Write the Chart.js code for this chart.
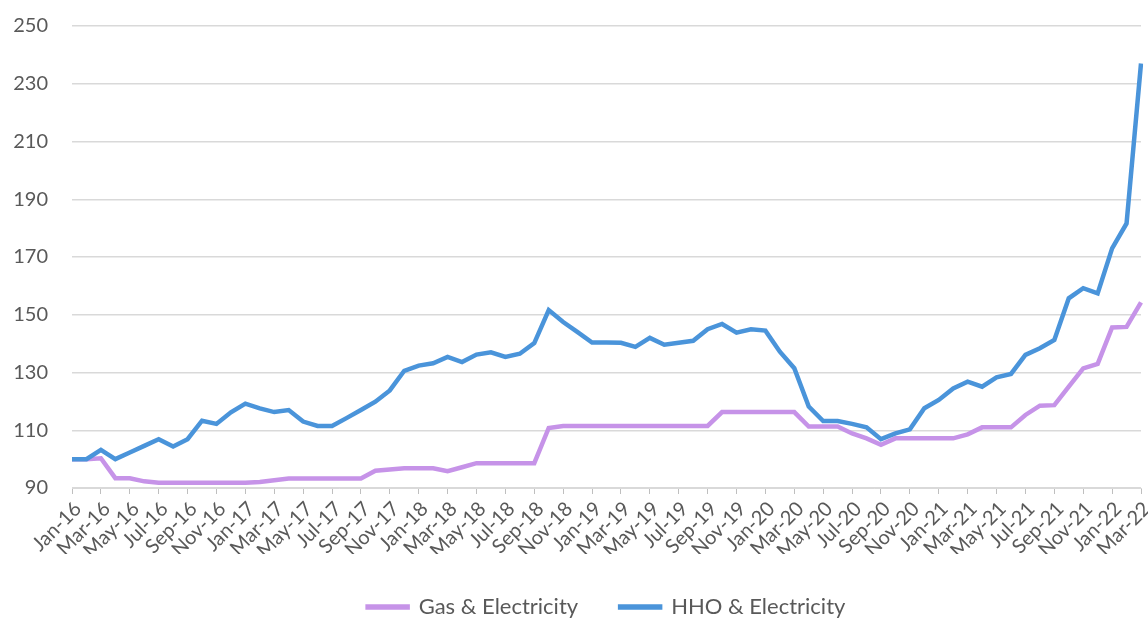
<!DOCTYPE html>
<html lang="en">
<head>
    <meta charset="UTF-8">
    <title>Gas vs HHO Index</title>
    <script src="https://cdn.jsdelivr.net/npm/chart.js"></script>
    <style>
        body {
            margin: 0;
            padding: 0;
            background: #ffffff;
        }
        #wrap {
            width: 1148px;
            height: 619px;
            position: relative;
        }
    </style>
</head>
<body>
    <div id="wrap">
        <canvas id="indexChart"></canvas>
    </div>

    <script>
        const months = [
            'Jan-16','Feb-16','Mar-16','Apr-16','May-16','Jun-16','Jul-16','Aug-16','Sep-16','Oct-16','Nov-16','Dec-16',
            'Jan-17','Feb-17','Mar-17','Apr-17','May-17','Jun-17','Jul-17','Aug-17','Sep-17','Oct-17','Nov-17','Dec-17',
            'Jan-18','Feb-18','Mar-18','Apr-18','May-18','Jun-18','Jul-18','Aug-18','Sep-18','Oct-18','Nov-18','Dec-18',
            'Jan-19','Feb-19','Mar-19','Apr-19','May-19','Jun-19','Jul-19','Aug-19','Sep-19','Oct-19','Nov-19','Dec-19',
            'Jan-20','Feb-20','Mar-20','Apr-20','May-20','Jun-20','Jul-20','Aug-20','Sep-20','Oct-20','Nov-20','Dec-20',
            'Jan-21','Feb-21','Mar-21','Apr-21','May-21','Jun-21','Jul-21','Aug-21','Sep-21','Oct-21','Nov-21','Dec-21',
            'Jan-22','Feb-22','Mar-22'
        ];

        const gasElec = [
            100, 100, 100.3, 93.4, 93.4, 92.3, 91.8, 91.8, 91.8, 91.8, 91.8, 91.8,
            91.8, 92.1, 92.7, 93.3, 93.3, 93.3, 93.3, 93.3, 93.3, 96.0, 96.4, 96.8,
            96.8, 96.8, 95.8, 97.2, 98.6, 98.6, 98.6, 98.6, 98.6, 110.8, 111.5, 111.5,
            111.5, 111.5, 111.5, 111.5, 111.5, 111.5, 111.5, 111.5, 111.5, 116.3, 116.3, 116.3,
            116.3, 116.3, 116.3, 111.3, 111.3, 111.3, 108.9, 107.2, 105.0, 107.2, 107.2, 107.2,
            107.2, 107.2, 108.6, 111.0, 111.0, 111.0, 115.3, 118.5, 118.7, 125.1, 131.4, 133.0,
            145.6, 145.8, 154.3
        ];

        const hhoElec = [
            100, 100, 103.2, 100, 102.3, 104.6, 106.9, 104.4, 106.9, 113.3, 112.2, 116.2,
            119.2, 117.6, 116.3, 117.0, 113.0, 111.5, 111.5, 114.2, 117.0, 119.9, 123.8, 130.6,
            132.4, 133.2, 135.4, 133.6, 136.2, 137.0, 135.4, 136.5, 140.2, 151.6, 147.5, 144.0,
            140.4, 140.4, 140.3, 138.9, 142.0, 139.6, 140.3, 141.0, 145.0, 146.8, 143.8, 145.0,
            144.5, 137.2, 131.5, 118.2, 113.2, 113.2, 112.2, 111.0, 106.9, 108.9, 110.3, 117.6,
            120.5, 124.5, 126.8, 125.1, 128.3, 129.5, 136.1, 138.4, 141.3, 155.7, 159.2, 157.4,
            173.0, 181.6, 237.0
        ];

        const yTicks = [90, 110, 130, 150, 170, 190, 210, 230, 250];

        const PURPLE = '#c693e8';
        const BLUE = '#4a94da';
        const TEXT = '#595959';
        const FONT = 'Lato, "Liberation Sans", sans-serif';

        const ctx = document.getElementById('indexChart').getContext('2d');

        new Chart(ctx, {
            type: 'line',
            data: {
                labels: months,
                datasets: [
                    {
                        label: 'Gas & Electricity',
                        data: gasElec,
                        borderColor: PURPLE,
                        backgroundColor: PURPLE,
                        borderWidth: 4.5,
                        pointRadius: 0,
                        tension: 0,
                        order: 2
                    },
                    {
                        label: 'HHO & Electricity',
                        data: hhoElec,
                        borderColor: BLUE,
                        backgroundColor: BLUE,
                        borderWidth: 4.5,
                        pointRadius: 0,
                        tension: 0,
                        order: 1
                    }
                ]
            },
            options: {
                responsive: true,
                maintainAspectRatio: false,
                animation: false,
                layout: {
                    padding: 0
                },
                plugins: {
                    title: { display: false },
                    tooltip: { enabled: false },
                    legend: {
                        position: 'bottom',
                        fullSize: false,
                        maxHeight: 65,
                        labels: {
                            font: { family: FONT, size: 22 },
                            color: TEXT,
                            boxWidth: 40,
                            boxHeight: 1,
                            padding: 42,
                            sort: (a, b) => a.datasetIndex - b.datasetIndex
                        }
                    }
                },
                scales: {
                    x: {
                        offset: false,
                        afterFit: (axis) => {
                            axis.height = 66;
                            axis.paddingRight = 7;
                            axis.paddingLeft = 0;
                            axis.paddingTop = 0;
                            axis.paddingBottom = 0;
                        },
                        grid: {
                            drawOnChartArea: false,
                            drawTicks: true,
                            tickLength: 6,
                            color: (c) => (c.index % 2 === 0 ? '#bfbfbf' : 'rgba(0,0,0,0)')
                        },
                        border: { display: true, color: '#d9d9d9' },
                        ticks: {
                            autoSkip: false,
                            maxRotation: 45,
                            minRotation: 45,
                            padding: 3,
                            labelOffset: 6,
                            color: TEXT,
                            font: { family: FONT, size: 20 },
                            callback: (v, i) => (i % 2 === 0 ? months[i] : '')
                        }
                    },
                    y: {
                        min: 90,
                        max: 250,
                        afterBuildTicks: (axis) => {
                            axis.ticks = yTicks.map(v => ({ value: v }));
                        },
                        afterFit: (axis) => {
                            axis.width = 72;
                            axis.paddingTop = 26;
                            axis.paddingBottom = 0;
                        },
                        grid: {
                            color: '#d9d9d9',
                            lineWidth: 1.5,
                            drawTicks: false
                        },
                        border: { display: false },
                        ticks: {
                            padding: 24,
                            color: TEXT,
                            font: { family: FONT, size: 20 }
                        }
                    }
                }
            }
        });
    </script>
</body>
</html>
